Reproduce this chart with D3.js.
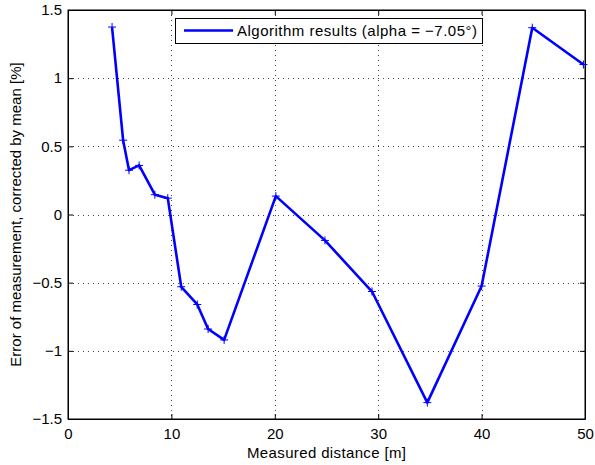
<!DOCTYPE html>
<html>
<head>
<meta charset="utf-8">
<script src="https://cdn.jsdelivr.net/npm/d3@7"></script>
<style>
  body { margin: 0; background: #fff; }
  text { font-family: "Liberation Sans", Arial, sans-serif; }
</style>
</head>
<body>
<script>
// measured distance [m]
const distance = [4.26, 5.33, 5.9, 6.88, 8.4, 9.65, 10.95, 12.5, 13.55, 15.1, 20.1, 24.85, 29.4, 34.75, 40.0, 44.9, 49.85]
// error, corrected by mean [%]
const error = [1.375, 0.545, 0.325, 0.36, 0.145, 0.12, -0.53, -0.66, -0.84, -0.92, 0.135, -0.19, -0.565, -1.38, -0.525, 1.37, 1.10]
const xTicks = [0, 10, 20, 30, 40, 50]
const yTicks = [-1.5, -1, -0.5, 0, 0.5, 1, 1.5]
const legendLabel = 'Algorithm results (alpha = \u22127.05\u00b0)'

const m = { width: 595, height: 465, left: 68, right: 10, top: 10, bottom: 46 }

const svg = d3.select('body').append('svg')
    .attr('width', m.width)
    .attr('height', m.height)

const x = d3.scaleLinear().domain([0, 50]).range([m.left, m.width - m.right])
const y = d3.scaleLinear().domain([-1.5, 1.5]).range([m.height - m.bottom, m.top])

const fmt = d => d < 0 ? '\u2212' + Math.abs(d) : String(d)

// dotted grid
const grid = svg.append('g').attr('stroke', '#444').attr('stroke-width', 1)
    .attr('stroke-dasharray', '1,4')
grid.selectAll('.gx').data(xTicks.slice(1, -1)).enter().append('line')
    .attr('x1', d => Math.round(x(d)) + 0.5).attr('x2', d => Math.round(x(d)) + 0.5)
    .attr('y1', y(1.5)).attr('y2', y(-1.5))
grid.selectAll('.gy').data(yTicks.slice(1, -1)).enter().append('line')
    .attr('y1', d => Math.round(y(d)) + 0.5).attr('y2', d => Math.round(y(d)) + 0.5)
    .attr('x1', x(0)).attr('x2', x(50))

// axes, ticks inward on all sides
const tick = 5
svg.append('g').attr('transform', `translate(0,${y(-1.5)})`)
    .call(d3.axisBottom(x).tickValues(xTicks).tickSizeInner(-tick).tickSizeOuter(0).tickPadding(9).tickFormat(fmt))
svg.append('g').attr('transform', `translate(0,${y(1.5)})`)
    .call(d3.axisTop(x).tickValues(xTicks).tickSizeInner(-tick).tickSizeOuter(0).tickFormat(''))
svg.append('g').attr('transform', `translate(${x(0)},0)`)
    .call(d3.axisLeft(y).tickValues(yTicks).tickSizeInner(-tick).tickSizeOuter(0).tickPadding(6).tickFormat(fmt))
svg.append('g').attr('transform', `translate(${x(50)},0)`)
    .call(d3.axisRight(y).tickValues(yTicks).tickSizeInner(-tick).tickSizeOuter(0).tickFormat(''))

svg.selectAll('.tick text').attr('font-size', 15).attr('fill', '#000')
    .attr('font-family', '"Liberation Sans", Arial, sans-serif')
svg.selectAll('.domain').attr('stroke', '#000')

// box
svg.append('rect')
    .attr('x', x(0)).attr('y', y(1.5))
    .attr('width', x(50) - x(0)).attr('height', y(-1.5) - y(1.5))
    .attr('fill', 'none').attr('stroke', '#000').attr('stroke-width', 1)

// data line
const pts = distance.map((d, i) => [d, error[i]])
svg.append('path')
    .datum(pts)
    .attr('fill', 'none')
    .attr('stroke', '#0000ff')
    .attr('stroke-width', 2.6)
    .attr('stroke-linejoin', 'round')
    .attr('d', d3.line().x(d => x(d[0])).y(d => y(d[1])))

svg.selectAll('.mk').data(pts).enter().append('path')
    .attr('stroke', '#0000ff').attr('stroke-width', 1)
    .attr('d', d => {
        const cx = x(d[0]), cy = y(d[1]), s = 4
        return `M${cx - s},${cy}H${cx + s}M${cx},${cy - s}V${cy + s}`
    })

// legend
const lg = svg.append('g')
lg.append('rect').attr('x', 175.5).attr('y', 18.5).attr('width', 307).attr('height', 25)
    .attr('fill', '#fff').attr('stroke', '#000').attr('stroke-width', 1)
lg.append('line').attr('x1', 184).attr('x2', 233).attr('y1', 30.5).attr('y2', 30.5)
    .attr('stroke', '#0000ff').attr('stroke-width', 2.6)
lg.append('text').attr('x', 237).attr('y', 36).attr('font-size', 15)
    .attr('textLength', 240).attr('lengthAdjust', 'spacing')
    .text(legendLabel)

// axis labels
svg.append('text')
    .attr('x', (x(0) + x(50)) / 2).attr('y', 458)
    .attr('text-anchor', 'middle').attr('font-size', 15)
    .attr('textLength', 159).attr('lengthAdjust', 'spacing')
    .text('Measured distance [m]')
svg.append('text')
    .attr('transform', `translate(21,${y(0)}) rotate(-90)`)
    .attr('text-anchor', 'middle').attr('font-size', 15)
    .text('Error of measurement, corrected by mean [%]')
</script>
</body>
</html>
